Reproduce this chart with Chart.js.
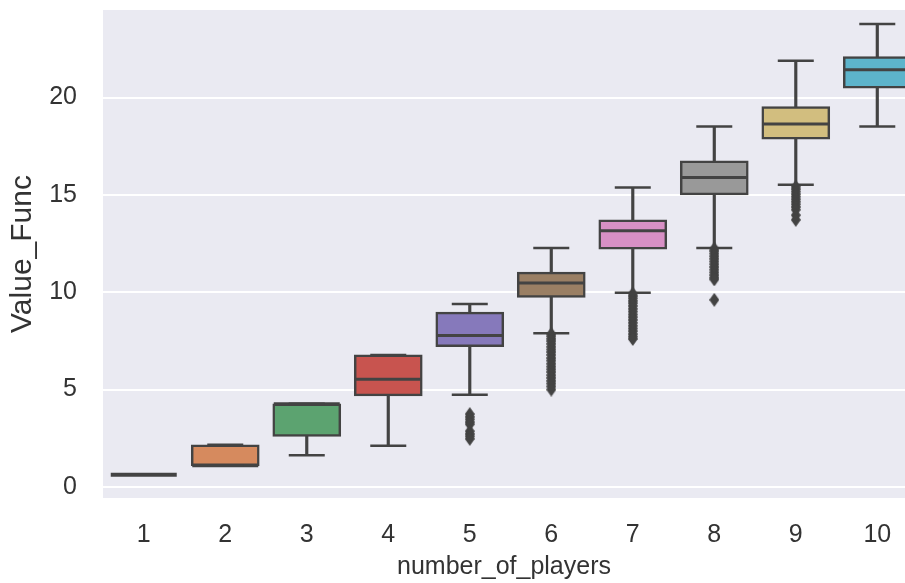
<!DOCTYPE html>
<html>
<head>
<meta charset="utf-8">
<script src="https://cdn.jsdelivr.net/npm/chart.js@4/dist/chart.umd.min.js"></script>
<style>
  html, body { margin: 0; padding: 0; background: #ffffff; }
  canvas { display: block; }
</style>
</head>
<body>
<canvas id="chart" width="905" height="583"></canvas>
<script>
// Box-plot summary of Value_Func by number_of_players
const categories  = [1, 2, 3, 4, 5, 6, 7, 8, 9, 10];
const q1          = [0.62, 1.09, 2.59, 4.68, 7.21, 9.73, 12.21, 15.00, 17.86, 20.49];
const q3          = [0.62, 2.16, 4.27, 6.78, 8.98, 11.03, 13.72, 16.75, 19.54, 22.11];
const medians     = [0.62, 1.09, 4.27, 5.53, 7.78, 10.47, 13.16, 15.90, 18.64, 21.43];
const whiskerLow  = [0.62, 1.09, 1.62, 2.12, 4.73, 7.90, 9.98, 12.27, 15.52, 18.52];
const whiskerHigh = [0.62, 2.16, 4.27, 6.78, 9.39, 12.27, 15.38, 18.52, 21.89, 23.78];

// Flier values per group
const fliers5 = [3.74, 3.60, 3.47, 3.33, 3.22, 2.86, 2.72, 2.60, 2.47];
const fliers6 = [7.86, 7.74, 7.61, 7.49, 7.35, 7.20, 7.06, 6.93, 6.78, 6.62, 6.49, 6.33, 6.18, 6.04, 5.90, 5.74, 5.60, 5.45, 5.31, 5.16, 5.00];
const fliers7 = [9.93, 9.81, 9.69, 9.56, 9.44, 9.30, 9.15, 9.01, 8.86, 8.72, 8.58, 8.43, 8.28, 8.14, 8.00, 7.85, 7.72, 7.60];
const fliers8 = [12.24, 12.12, 11.99, 11.85, 11.72, 11.58, 11.44, 11.30, 11.16, 11.02, 10.88, 10.75, 10.66, 9.61];
const fliers9 = [15.42, 15.30, 15.17, 15.04, 14.91, 14.78, 14.65, 14.52, 14.38, 14.24, 13.96, 13.72];

const boxColors = ['#5875a8', '#d68a5e', '#5ca370', '#c8544f', '#8679bb',
                   '#9a7f64', '#d890c5', '#999999', '#d2be7f', '#5db4cb'];
const lineColor = '#434343';
const textColor = '#333333';
const fontFamily = "'Liberation Sans', Arial, sans-serif";

// thin diamond marker for the fliers
function thinDiamond(w, h, color) {
  const c = document.createElement('canvas');
  c.width = w; c.height = h;
  const g = c.getContext('2d');
  g.fillStyle = color;
  g.beginPath();
  g.moveTo(w / 2, 0);
  g.lineTo(w, h / 2);
  g.lineTo(w / 2, h);
  g.lineTo(0, h / 2);
  g.closePath();
  g.fill();
  return c;
}
const diamond = thinDiamond(10, 14, lineColor);

const fliers = [];
[[5, fliers5], [6, fliers6], [7, fliers7], [8, fliers8], [9, fliers9]].forEach(([cat, vals]) => {
  vals.forEach(v => fliers.push({ x: cat, y: v }));
});

const caps = [];
categories.forEach((c, i) => {
  caps.push({ x: c, y: whiskerLow[i] });
  caps.push({ x: c, y: whiskerHigh[i] });
});

// grey panel behind the plotting area
const panelBackground = {
  id: 'panelBackground',
  beforeDraw(chart) {
    const { ctx, chartArea: a } = chart;
    ctx.save();
    ctx.fillStyle = '#eaeaf2';
    ctx.fillRect(a.left, a.top, a.right - a.left, a.bottom - a.top);
    ctx.restore();
  }
};

function noScalePadding(scale) {
  scale.paddingTop = 0;
  scale.paddingBottom = 0;
  scale.paddingLeft = 0;
  scale.paddingRight = 0;
}

new Chart(document.getElementById('chart'), {
  type: 'bar',
  data: {
    datasets: [
      {
        type: 'bar',
        label: 'whiskers',
        data: categories.map((c, i) => ({ x: c, y: [whiskerLow[i], whiskerHigh[i]] })),
        backgroundColor: lineColor,
        borderWidth: 0,
        barThickness: 2.5,
        grouped: false,
        order: 5
      },
      {
        type: 'bar',
        label: 'boxes',
        data: categories.map((c, i) => ({ x: c, y: [q1[i], q3[i]] })),
        backgroundColor: boxColors,
        borderColor: lineColor,
        borderWidth: 2.5,
        borderSkipped: false,
        barThickness: 68,
        grouped: false,
        order: 4
      },
      {
        type: 'scatter',
        label: 'medians',
        data: categories.map((c, i) => ({ x: c, y: medians[i] })),
        pointStyle: 'line',
        pointRadius: 33,
        borderColor: lineColor,
        pointBorderWidth: [4, 3, 3, 3, 3, 3, 3, 3, 3, 3],
        order: 3
      },
      {
        type: 'scatter',
        label: 'caps',
        data: caps,
        pointStyle: 'line',
        pointRadius: 18,
        borderColor: lineColor,
        pointBorderWidth: 2.5,
        order: 2
      },
      {
        type: 'scatter',
        label: 'fliers',
        data: fliers,
        pointStyle: diamond,
        pointRadius: 6,
        order: 1
      }
    ]
  },
  options: {
    responsive: false,
    animation: false,
    events: [],
    layout: { autoPadding: false, padding: { top: 10, right: 0, bottom: 0, left: 0 } },
    plugins: { legend: { display: false }, tooltip: { enabled: false } },
    scales: {
      x: {
        type: 'linear',
        offset: false,
        min: 0.5,
        max: 10.34,
        grid: { display: false, drawTicks: false },
        border: { display: false },
        ticks: {
          stepSize: 1,
          includeBounds: false,
          padding: 22,
          color: textColor,
          font: { family: fontFamily, size: 25 }
        },
        title: {
          display: true,
          text: 'number_of_players',
          color: textColor,
          font: { family: fontFamily, size: 25 },
          padding: { top: 0, bottom: 1 }
        },
        afterFit(scale) { scale.height = 85; noScalePadding(scale); }
      },
      y: {
        min: -0.57,
        max: 24.5,
        grid: { color: '#ffffff', lineWidth: 2, drawTicks: false },
        border: { display: false },
        ticks: {
          stepSize: 5,
          includeBounds: false,
          padding: 26,
          color: textColor,
          font: { family: fontFamily, size: 25 }
        },
        title: {
          display: true,
          text: 'Value_Func',
          color: textColor,
          font: { family: fontFamily, size: 30 },
          padding: { top: 5, bottom: 0 }
        },
        afterFit(scale) { scale.width = 103; noScalePadding(scale); }
      }
    }
  },
  plugins: [panelBackground]
});
</script>
</body>
</html>
